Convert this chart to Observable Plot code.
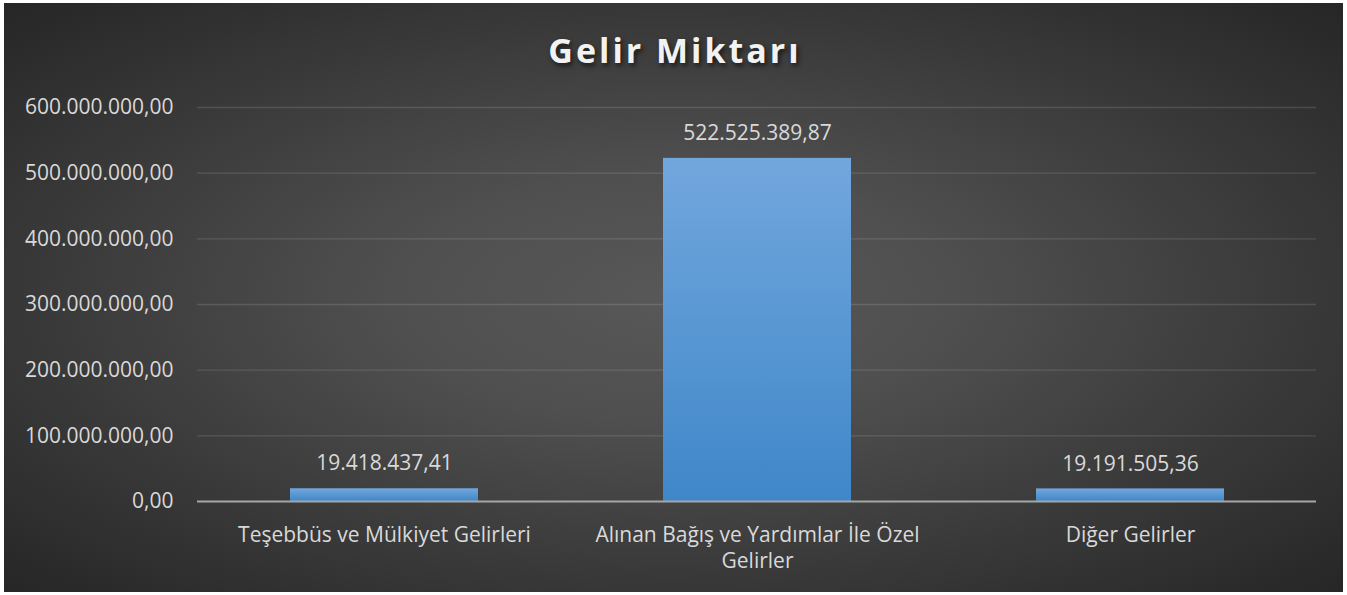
<!DOCTYPE html>
<html>
<head>
<meta charset="utf-8">
<script src="https://cdn.jsdelivr.net/npm/d3@7"></script>
<script src="https://cdn.jsdelivr.net/npm/@observablehq/plot@0.6"></script>
<style>
  html, body { margin: 0; padding: 0; background: #ffffff; }
  #chart {
    position: absolute; left: 4px; top: 3px; width: 1339px; height: 589px;
    background: radial-gradient(ellipse farthest-corner at 50% 50%, #585858 0%, #4f4f4f 30%, #3a3a3a 65%, #262626 100%);
    overflow: hidden;
  }
  #title {
    box-sizing: border-box; height: 80px; padding-top: 27px; padding-left: 3px; line-height: 40px;
    text-align: center; color: #f2f2f2; font-family: "Open Sans", sans-serif;
    font-weight: 700; font-size: 34px; letter-spacing: 3px;
    text-shadow: 2px 3px 5px rgba(0,0,0,0.6);
  }
  #chart svg { display: block; }
</style>
</head>
<body>
<div id="chart"><div id="title">Gelir Miktarı</div></div>
<script>
const categories = ["Teşebbüs ve Mülkiyet Gelirleri", "Alınan Bağış ve Yardımlar İle Özel Gelirler", "Diğer Gelirler"];
const xTickLabels = ["Teşebbüs ve Mülkiyet Gelirleri", "Alınan Bağış ve Yardımlar İle Özel\nGelirler", "Diğer Gelirler"];
const values = [19418437.41, 522525389.87, 19191505.36];
const yTicks = [0, 100000000, 200000000, 300000000, 400000000, 500000000, 600000000];

const tr = d3.formatLocale({decimal: ",", thousands: ".", grouping: [3], currency: ["", ""]});
const fmt = tr.format(",.2f");
const data = categories.map((c, i) => ({category: c, value: values[i]}));
const labelOf = new Map(categories.map((c, i) => [c, xTickLabels[i]]));

const defs = () => {
  const g = d3.create("svg:defs");
  const lg = g.append("linearGradient").attr("id", "barGrad").attr("x1", 0).attr("y1", 0).attr("x2", 0).attr("y2", 1);
  lg.append("stop").attr("offset", "0%").attr("stop-color", "#72a7dd");
  lg.append("stop").attr("offset", "100%").attr("stop-color", "#3f87c9");
  const f = g.append("filter").attr("id", "barShadow").attr("x", "-10%").attr("y", "-10%").attr("width", "130%").attr("height", "130%");
  f.append("feDropShadow").attr("dx", 2).attr("dy", 2).attr("stdDeviation", 2).attr("flood-color", "#000").attr("flood-opacity", 0.45);
  return g.node();
};

const chart = Plot.plot({
  width: 1339,
  height: 509,
  marginTop: 24,
  marginBottom: 91,
  marginLeft: 193,
  marginRight: 27,
  style: {background: "transparent", color: "#d9d9d9", fontFamily: "Open Sans, sans-serif", fontSize: "21px", overflow: "visible"},
  x: {domain: categories, paddingInner: 0.496, paddingOuter: 0.248, label: null},
  y: {domain: [0, 600000000], label: null},
  marks: [
    defs,
    Plot.gridY(yTicks.filter(d => d > 0), {stroke: "#ffffff", strokeOpacity: 0.13, strokeWidth: 1.3}),
    Plot.barY(data, {x: "category", y: "value", fill: "url(#barGrad)", style: "filter:url(#barShadow)"}),
    Plot.ruleY([0], {stroke: "#a6a6a6", strokeWidth: 2}),
    Plot.text(data, {x: "category", y: "value", text: d => fmt(d.value), dy: -25, fill: "#d9d9d9", fontSize: 21}),
    Plot.axisY(yTicks, {tickSize: 0, tickPadding: 24, tickFormat: fmt, fill: "#d9d9d9", fontSize: 21}),
    Plot.axisX({tickSize: 0, tickPadding: 22, tickFormat: d => labelOf.get(d), fill: "#d9d9d9", fontSize: 21, lineHeight: 1.24})
  ]
});
document.getElementById("chart").appendChild(chart);
</script>
</body>
</html>
